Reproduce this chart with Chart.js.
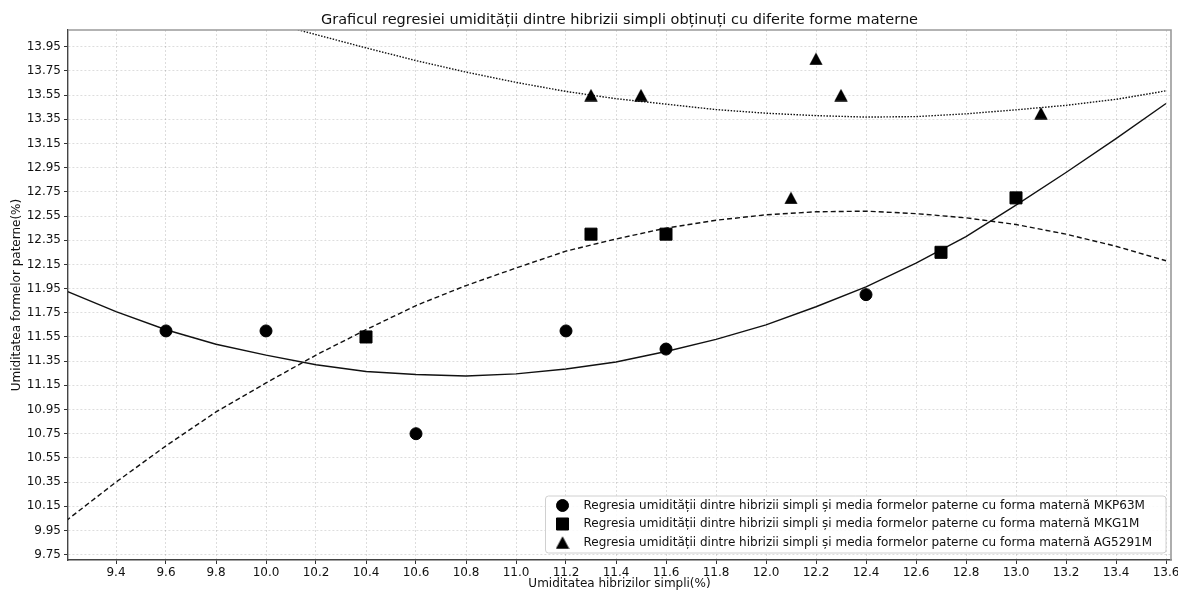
<!DOCTYPE html>
<html><head><meta charset="utf-8">
<script src="https://cdn.jsdelivr.net/npm/chart.js@4/dist/chart.umd.min.js"></script>
<style>html,body{margin:0;padding:0;background:#fff}</style>
</head><body>
<canvas id="c" width="1178" height="591" style="display:block;width:1178px;height:591px"></canvas>
<script>
const chartTitle = "Graficul regresiei umidității dintre hibrizii simpli obținuți cu diferite forme materne";
const xAxisTitle = "Umiditatea hibrizilor simpli(%)";
const yAxisTitle = "Umiditatea formelor paterne(%)";
const seriesNames = [
  "Regresia umidității dintre hibrizii simpli și media formelor paterne cu forma maternă MKP63M",
  "Regresia umidității dintre hibrizii simpli și media formelor paterne cu forma maternă MKG1M",
  "Regresia umidității dintre hibrizii simpli și media formelor paterne cu forma maternă AG5291M"
];

// observed points
const mkp63mX = [9.6, 10.0, 10.6, 11.2, 11.6, 12.4];
const mkp63mY = [11.6, 11.6, 10.75, 11.6, 11.45, 11.9];
const mkg1mX = [10.4, 11.3, 11.6, 12.7, 13.0];
const mkg1mY = [11.55, 12.4, 12.4, 12.25, 12.7];
const ag5291mX = [11.3, 11.5, 12.1, 12.2, 12.3, 13.1];
const ag5291mY = [13.55, 13.55, 12.7, 13.85, 13.55, 13.4];

// regression curves
const fitX = [9.2, 9.4, 9.6, 9.8, 10.0, 10.2, 10.4, 10.6, 10.8, 11.0, 11.2, 11.4, 11.6, 11.8, 12.0, 12.2, 12.4, 12.6, 12.8, 13.0, 13.2, 13.4, 13.6];
const mkp63mFit = [11.93, 11.76, 11.61, 11.49, 11.40, 11.32, 11.265, 11.24, 11.227, 11.245, 11.285, 11.343, 11.43, 11.53, 11.65, 11.80, 11.965, 12.16, 12.38, 12.64, 12.91, 13.19, 13.48];
const mkg1mFit = [10.03, 10.35, 10.65, 10.93, 11.17, 11.40, 11.61, 11.81, 11.975, 12.12, 12.26, 12.36, 12.45, 12.515, 12.56, 12.585, 12.59, 12.57, 12.535, 12.48, 12.40, 12.30, 12.18];
const ag5291mFitX = [10.0, 10.2, 10.4, 10.6, 10.8, 11.0, 11.2, 11.4, 11.6, 11.8, 12.0, 12.2, 12.4, 12.6, 12.8, 13.0, 13.2, 13.4, 13.6];
const ag5291mFit = [14.16, 14.05, 13.94, 13.835, 13.74, 13.655, 13.58, 13.52, 13.475, 13.43, 13.40, 13.38, 13.368, 13.372, 13.395, 13.428, 13.465, 13.515, 13.585];

const xTicks = [9.4, 9.6, 9.8, 10.0, 10.2, 10.4, 10.6, 10.8, 11.0, 11.2, 11.4, 11.6, 11.8, 12.0, 12.2, 12.4, 12.6, 12.8, 13.0, 13.2, 13.4, 13.6];
const yTicks = [9.75, 9.95, 10.15, 10.35, 10.55, 10.75, 10.95, 11.15, 11.35, 11.55, 11.75, 11.95, 12.15, 12.35, 12.55, 12.75, 12.95, 13.15, 13.35, 13.55, 13.75, 13.95];

const zip = (xs, ys) => xs.map((x, i) => ({x: x, y: ys[i]}));
const FONT = "'DejaVu Sans', sans-serif";
const INK = '#000';
const FS = 12;

// matplotlib-like '^' marker: triangle centred on its bounding box
const triMarker = (() => {
  const c = document.createElement('canvas');
  c.width = 14; c.height = 13;
  const g = c.getContext('2d');
  g.fillStyle = INK;
  g.beginPath();
  g.moveTo(7, 0.3); g.lineTo(13.7, 12.7); g.lineTo(0.3, 12.7); g.closePath();
  g.fill();
  return c;
})();

const markerStyles = ['circle', 'rect', triMarker];
const markerRadius = [6, 8.5, 7.5];

const lineDs = (data, dash) => ({
  data: data, showLine: true, borderColor: '#111', borderWidth: 1.4,
  borderDash: dash, pointRadius: 0, pointHoverRadius: 0, tension: 0, fill: false
});
const ptDs = (label, data, i) => ({
  label: label, data: data, showLine: false, pointStyle: markerStyles[i],
  pointRadius: markerRadius[i], pointHoverRadius: markerRadius[i],
  backgroundColor: INK, borderColor: INK, borderWidth: 1
});

const frameAndTitle = {
  id: 'frameAndTitle',
  afterLayout(chart) {
    // keep the plot frame where the reference has it
    const a = chart.chartArea;
    const wantRight = chart.width - 7;
    if (Math.abs(a.right - wantRight) > 0.5) {
      a.right = wantRight; a.width = a.right - a.left;
      const xs = chart.scales.x;
      xs.right = wantRight; xs.width = xs.right - xs.left;
      xs.configure();
    }
  },
  afterDatasetsDraw(chart) {
    const {ctx, chartArea: a} = chart;
    ctx.save();
    ctx.strokeStyle = '#9a9a9a';
    ctx.lineWidth = 1.6;
    ctx.beginPath();
    ctx.moveTo(a.left, a.top); ctx.lineTo(a.right, a.top); ctx.lineTo(a.right, a.bottom);
    ctx.stroke();
    ctx.restore();
  },
  afterDraw(chart) {
    const {ctx, chartArea: a} = chart;
    ctx.save();
    ctx.fillStyle = '#111';
    ctx.font = "14.5px " + FONT;
    ctx.textAlign = 'center';
    ctx.textBaseline = 'alphabetic';
    ctx.fillText(chartTitle, (a.left + a.right) / 2, 24);

    // legend
    ctx.font = FS + "px " + FONT;
    const tw = Math.max(...seriesNames.map(s => ctx.measureText(s).width));
    const right = a.right - 5, bottom = a.bottom - 7, top = bottom - 57;
    const left = right - (16 + 22 + tw + 14);
    ctx.beginPath();
    if (ctx.roundRect) ctx.roundRect(left, top, right - left, bottom - top, 3); else ctx.rect(left, top, right - left, bottom - top);
    ctx.fillStyle = 'rgba(255,255,255,0.85)';
    ctx.fill();
    ctx.strokeStyle = '#d0d0d0';
    ctx.lineWidth = 1;
    ctx.stroke();
    const rows = [top + 9.5, top + 28, top + 46.5];
    seriesNames.forEach((name, i) => {
      const mx = left + 17, my = rows[i];
      ctx.fillStyle = INK; ctx.strokeStyle = INK;
      Chart.helpers.drawPoint(ctx, {pointStyle: markerStyles[i], radius: markerRadius[i], borderWidth: 1}, mx, my);
      ctx.fillStyle = '#111';
      ctx.textAlign = 'left';
      ctx.textBaseline = 'middle';
      ctx.fillText(name, left + 38, my);
    });
    ctx.restore();
  }
};

new Chart(document.getElementById('c'), {
  type: 'scatter',
  data: {
    datasets: [
      ptDs(seriesNames[0], zip(mkp63mX, mkp63mY), 0),
      ptDs(seriesNames[1], zip(mkg1mX, mkg1mY), 1),
      ptDs(seriesNames[2], zip(ag5291mX, ag5291mY), 2),
      lineDs(zip(fitX, mkp63mFit), []),
      lineDs(zip(fitX, mkg1mFit), [5, 3]),
      lineDs(zip(ag5291mFitX, ag5291mFit), [1.5, 1.5])
    ]
  },
  options: {
    responsive: false,
    animation: false,
    devicePixelRatio: 1,
    layout: {padding: {top: 30, right: 7, bottom: 0, left: 0}},
    plugins: {legend: {display: false}, title: {display: false}, tooltip: {enabled: false}},
    scales: {
      x: {
        type: 'linear', min: 9.208, max: 13.62,
        afterBuildTicks: s => { s.ticks = xTicks.map(v => ({value: v})); },
        afterFit: s => { s.height = 31; s.paddingLeft = 0; s.paddingRight = 0; },
        ticks: {font: {family: FONT, size: FS}, color: '#111', padding: 2, maxRotation: 0, autoSkip: false,
                callback: v => Number(v).toFixed(1)},
        grid: {color: 'rgba(0,0,0,0.17)', lineWidth: 0.8, tickLength: 4, tickColor: '#333', tickWidth: 1, tickBorderDash: []},
        border: {display: true, color: '#444', width: 1.4, dash: [2, 2]},
        title: {display: true, text: xAxisTitle, font: {family: FONT, size: FS}, color: '#111', padding: {top: 0, bottom: 0}}
      },
      y: {
        type: 'linear', min: 9.706, max: 14.088,
        afterBuildTicks: s => { s.ticks = yTicks.map(v => ({value: v})); },
        afterFit: s => { s.width = 68; s.paddingTop = 0; s.paddingBottom = 0; },
        ticks: {font: {family: FONT, size: FS}, color: '#111', padding: 3, autoSkip: false,
                callback: v => Number(v).toFixed(2)},
        grid: {color: 'rgba(0,0,0,0.17)', lineWidth: 0.8, tickLength: 4, tickColor: '#333', tickWidth: 1, tickBorderDash: []},
        border: {display: true, color: '#444', width: 1.4, dash: [2, 2]},
        title: {display: true, text: yAxisTitle, font: {family: FONT, size: FS}, color: '#111', padding: {top: 10, bottom: 0}}
      }
    }
  },
  plugins: [frameAndTitle]
});
</script>
</body></html>
